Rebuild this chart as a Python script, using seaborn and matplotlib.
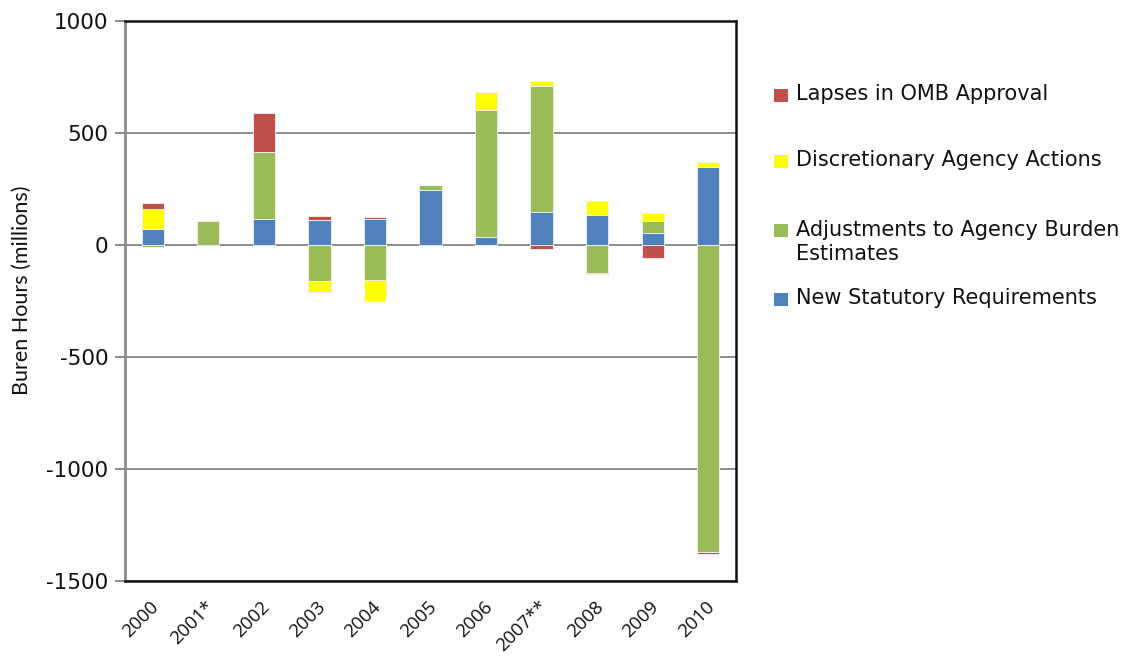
import numpy as np
import pandas as pd
import matplotlib
matplotlib.use("Agg")
import matplotlib.pyplot as plt
import matplotlib.transforms as mtransforms
import seaborn as sns
from matplotlib.patches import Rectangle

# Burden hour changes by program year (millions of hours)
years = ["2000", "2001*", "2002", "2003", "2004", "2005", "2006", "2007**", "2008", "2009", "2010"]
new_statutory = [71, 0, 117, 110, 117, 246, 36, 147, 135, 55, 350]
adjustments = [-9, 105, 297, -159, -156, 20, 566, 561, -126, 53, -1371]
discretionary = [89, 0, 0, -53, -96, 0, 79, 25, 61, 33, 21]
lapses = [27, 0, 177, 18, 7, 2, -2, -18, -3, -56, -9]

series_labels = ["New Statutory Requirements",
                 "Adjustments to Agency Burden\nEstimates",
                 "Discretionary Agency Actions",
                 "Lapses in OMB Approval"]
series_values = [new_statutory, adjustments, discretionary, lapses]
series_colors = ["#4F81BD", "#9BBB59", "#FFFF00", "#C0504D"]

sns.set_theme(style="white")
plt.rcParams["font.family"] = ["DejaVu Sans"]
plt.rcParams["axes.unicode_minus"] = False

fig = plt.figure(figsize=(11.35, 6.58), dpi=100)
ax = fig.add_axes([125 / 1135, 1 - 581 / 658, 611 / 1135, 560 / 658])

# Stack positive and negative parts separately
pos = np.zeros(len(years))
neg = np.zeros(len(years))
for label, vals, color in zip(series_labels, series_values, series_colors):
    v = np.asarray(vals, dtype=float)
    bottom = np.where(v >= 0, pos, neg)
    df = pd.DataFrame({"year": years, "value": v})
    sns.barplot(data=df, x="year", y="value", order=years, color=color,
                saturation=1, width=0.4, errorbar=None, bottom=bottom,
                edgecolor="#f2f2f2", linewidth=0.6, ax=ax)
    pos += np.clip(v, 0, None)
    neg += np.clip(v, None, 0)

ax.set_xlim(-0.5, len(years) - 0.5)
ax.set_ylim(-1500, 1000)
ax.set_yticks(np.arange(-1500, 1001, 500))
ax.yaxis.grid(True, color="#8c8c8c", linewidth=1.4)
ax.set_axisbelow(True)

for side in ["top", "right", "bottom"]:
    ax.spines[side].set_color("#111111")
    ax.spines[side].set_linewidth(1.8)
ax.spines["left"].set_color("#8c8c8c")
ax.spines["left"].set_linewidth(2.0)

ax.tick_params(axis="y", which="both", direction="out", length=7, width=1.4,
               color="#8c8c8c", labelsize=15.5, pad=5, left=True,
               labelcolor="#111111")
ax.tick_params(axis="x", length=0, pad=4, labelcolor="#111111")
ax.set_xticks(range(len(years)))
ax.set_xticklabels(years, rotation=45, ha="right", rotation_mode="anchor",
                   fontsize=13.5, family="Open Sans")
shift = mtransforms.ScaledTranslation(-3 / 100, -11 / 100, fig.dpi_scale_trans)
for lbl in ax.get_xticklabels():
    lbl.set_transform(lbl.get_transform() + shift)

ax.set_xlabel("")
ax.set_ylabel("Buren Hours (millions)", fontsize=15.5, family="Lato",
              color="#111111")
ax.yaxis.set_label_coords(-0.153, 0.52)

# Legend drawn to the right of the plot area, top entry last in stack order
legend_rows = [("Lapses in OMB Approval", "#C0504D", 95),
               ("Discretionary Agency Actions", "#FFFF00", 162),
               ("Adjustments to Agency Burden\nEstimates", "#9BBB59", 231),
               ("New Statutory Requirements", "#4F81BD", 299)]
W, H = 1135, 658
for text, color, yc in legend_rows:
    fig.patches.append(Rectangle((774 / W, 1 - (yc + 6.5) / H), 14 / W, 13 / H,
                                 transform=fig.transFigure, facecolor=color,
                                 edgecolor="none"))
    fig.text(796 / W, 1 - (yc - 11.5) / H, text, fontsize=15, va="top", ha="left",
             color="#111111", linespacing=1.25)

fig.savefig("out.png", dpi=100)
